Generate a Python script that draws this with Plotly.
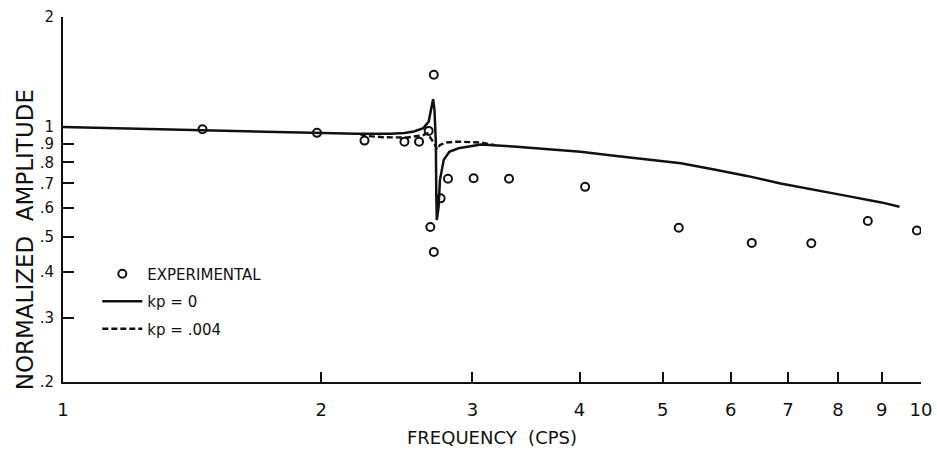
import plotly.graph_objects as go

# Experimental data (frequency in cps, normalized amplitude)
exp_freq = [1.454, 1.977, 2.246, 2.50, 2.60, 2.668, 2.705, 2.705, 2.68, 2.755,
            2.81, 3.01, 3.31, 4.06, 5.22, 6.35, 7.45, 8.67, 9.89]
exp_amp = [0.985, 0.963, 0.917, 0.911, 0.911, 0.975, 1.389, 0.454, 0.532, 0.637,
           0.721, 0.723, 0.721, 0.685, 0.529, 0.481, 0.480, 0.552, 0.520]

# Theory kp = 0 (solid)
kp0_freq = [1.0, 1.45, 1.98, 2.2, 2.41, 2.5, 2.564, 2.63, 2.668, 2.685, 2.70,
            2.71, 2.72, 2.723, 2.727, 2.74, 2.75, 2.778, 2.82, 2.89, 3.07,
            3.35, 3.67, 4.01, 4.39, 4.80, 5.25, 5.74, 6.27, 6.86, 7.51, 8.22,
            8.99, 9.44]
kp0_amp = [1.0, 0.981, 0.961, 0.957, 0.957, 0.962, 0.971, 0.992, 1.034, 1.114, 1.191,
           1.114, 0.902, 0.657, 0.555, 0.604, 0.715, 0.812, 0.855, 0.874, 0.895,
           0.883, 0.868, 0.855, 0.834, 0.815, 0.795, 0.764, 0.734, 0.700, 0.674, 0.646,
           0.621, 0.604]

# Theory kp = .004 (dashed)
kp004_freq = [2.22, 2.25, 2.36, 2.52, 2.63, 2.66, 2.715, 2.727, 2.75, 2.80,
              2.88, 3.07, 3.18]
kp004_amp = [0.955, 0.945, 0.937, 0.935, 0.95, 0.961, 0.892, 0.868, 0.892, 0.906,
             0.911, 0.906, 0.892]

x_ticks = [1, 2, 3, 4, 5, 6, 7, 8, 9, 10]
x_tick_labels = ["1", "2", "3", "4", "5", "6", "7", "8", "9", "10"]
y_ticks = [0.2, 0.3, 0.4, 0.5, 0.6, 0.7, 0.8, 0.9, 1, 2]
y_tick_labels = [".2", ".3", ".4", ".5", ".6", ".7", ".8", ".9", "1", "2"]

FONT = "DejaVu Sans"
INK = "#111111"

fig = go.Figure()
fig.add_trace(go.Scatter(
    x=exp_freq, y=exp_amp, mode="markers", name="EXPERIMENTAL",
    legendgroup="a",
    marker=dict(symbol="circle-open", size=8, color=INK, line=dict(width=2, color=INK)),
))
fig.add_trace(go.Scatter(
    x=kp0_freq, y=kp0_amp, mode="lines", name="kp = 0",
    legendgroup="b",
    line=dict(color=INK, width=2.5),
))
fig.add_trace(go.Scatter(
    x=kp004_freq, y=kp004_amp, mode="lines", name="kp = .004",
    legendgroup="c",
    line=dict(color=INK, width=2.4, dash="6px,3px"),
))

fig.update_layout(
    width=937, height=452,
    margin=dict(l=63, r=16, t=17, b=70),
    paper_bgcolor="white", plot_bgcolor="white",
    font=dict(family=FONT, color=INK, size=15),
    legend=dict(x=0.04, y=0.341, xanchor="left", yanchor="top",
                bgcolor="rgba(0,0,0,0)", font=dict(size=15, family=FONT),
                tracegroupgap=5, itemwidth=40),
    xaxis=dict(
        type="log", range=[0, 1], automargin=False,
        tickvals=x_ticks, ticktext=x_tick_labels,
        ticks="inside", ticklen=10, tickwidth=2, tickcolor=INK,
        showline=True, linewidth=2, linecolor=INK,
        showgrid=False, zeroline=False,
        tickfont=dict(size=18, family=FONT),
        ticklabelstandoff=10,
        title=dict(text="FREQUENCY  (CPS)", font=dict(size=18, family=FONT), standoff=13),
    ),
    yaxis=dict(
        type="log", range=[0.30103 - 1, 0.30103], automargin=False,
        tickvals=y_ticks, ticktext=y_tick_labels,
        ticks="inside", ticklen=11, tickwidth=2, tickcolor=INK,
        showline=True, linewidth=2, linecolor=INK,
        showgrid=False, zeroline=False,
        tickfont=dict(size=15, family=FONT),
        ticklabelstandoff=4,
    ),
    annotations=[dict(
        text="NORMALIZED  AMPLITUDE", textangle=-90,
        xref="paper", yref="paper", x=-0.044, y=0.389,
        xanchor="center", yanchor="middle", showarrow=False,
        font=dict(size=23, family=FONT, color=INK),
    )],
)

fig.write_html("out.html", config={"displayModeBar": False},
               post_script="document.body.style.margin='0';document.body.style.padding='0';")
